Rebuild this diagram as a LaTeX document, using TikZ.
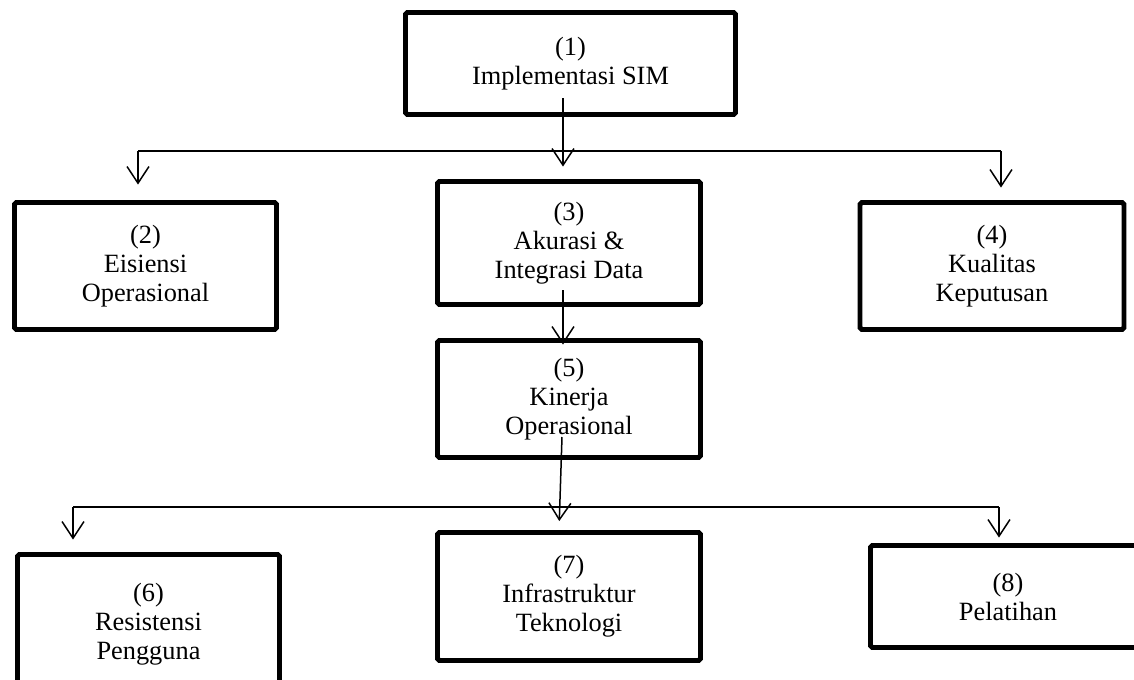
\documentclass[tikz,border=0pt]{standalone}
\usepackage{fontspec}
\setmainfont{Liberation Serif}
\usetikzlibrary{arrows.meta}

\begin{document}
\begin{tikzpicture}[
            x = 0.02cm, y = -0.02cm, % one unit per pixel, y downwards
            > = {Straight Barb[length=9.5pt, width=12.5pt]}, % open arrow head
            every node/.style = {font=\fontsize{15}{16.5}\selectfont, align=center},
        ]

        \tikzstyle{box}=[
            draw = black,
            line width = 2.8pt,
            rounded corners = 1pt,
            inner sep = 0pt
        ]
        \tikzstyle{link}=[line width = 0.85pt]

  \useasboundingbox (0,0) rectangle (1134,680);

  \node[box, minimum width=6.6cm,  minimum height=2.04cm] (n1) at (570.5,63.5) {(1)\\Implementasi SIM};
  \node[box, minimum width=5.24cm, minimum height=2.54cm] (n2) at (145.5,266) {(2)\\Eisiensi\\Operasional};
  \node[box, minimum width=5.26cm, minimum height=2.46cm] (n3) at (569,243) {(3)\\Akurasi \&\\Integrasi Data};
  \node[box, minimum width=5.28cm, minimum height=2.54cm] (n4) at (992,266) {(4)\\Kualitas\\Keputusan};
  \node[box, minimum width=5.26cm, minimum height=2.34cm] (n5) at (569,399) {(5)\\Kinerja\\Operasional};
  \node[box, minimum width=5.24cm, minimum height=2.78cm] (n6) at (148.5,624) {(6)\\Resistensi\\Pengguna};
  \node[box, minimum width=5.26cm, minimum height=2.56cm] (n7) at (569,596.5) {(7)\\Infrastruktur\\Teknologi};
  \node[box, minimum width=5.5cm,  minimum height=2.04cm] (n8) at (1008,596.5) {(8)\\Pelatihan};

  % junctions of the two branch lines
  \coordinate (s1) at (563,98);
  \coordinate (b1l) at (138,151);
  \coordinate (b1r) at (1001,151);
  \coordinate (s3) at (563,290);
  \coordinate (s5) at (562,437);
  \coordinate (b2m) at (559,507);
  \coordinate (b2l) at (73,507);
  \coordinate (b2r) at (999,507);

  \draw[link] (b1l) -- (b1r);
  \draw[link] (b2l) -- (b2r);

  \draw[link,->, shorten >=0.25cm] (s1) -- (s1 |- n3.north);
  \draw[link,->, shorten >=0.31cm] (b1l) -- (b1l |- n2.north);
  \draw[link,->, shorten >=0.25cm] (b1r) -- (b1r |- n4.north);
  \draw[link,->, shorten >=-0.13cm] (s3) -- (s3 |- n5.north);
  \draw[link,->, shorten >=0.18cm] (s5) -- (b2m |- n7.north);
  \draw[link,->, shorten >=0.25cm] (b2l) -- (b2l |- n6.north);
  \draw[link,->, shorten >=0.11cm] (b2r) -- (b2r |- n8.north);

\end{tikzpicture}
\end{document}
